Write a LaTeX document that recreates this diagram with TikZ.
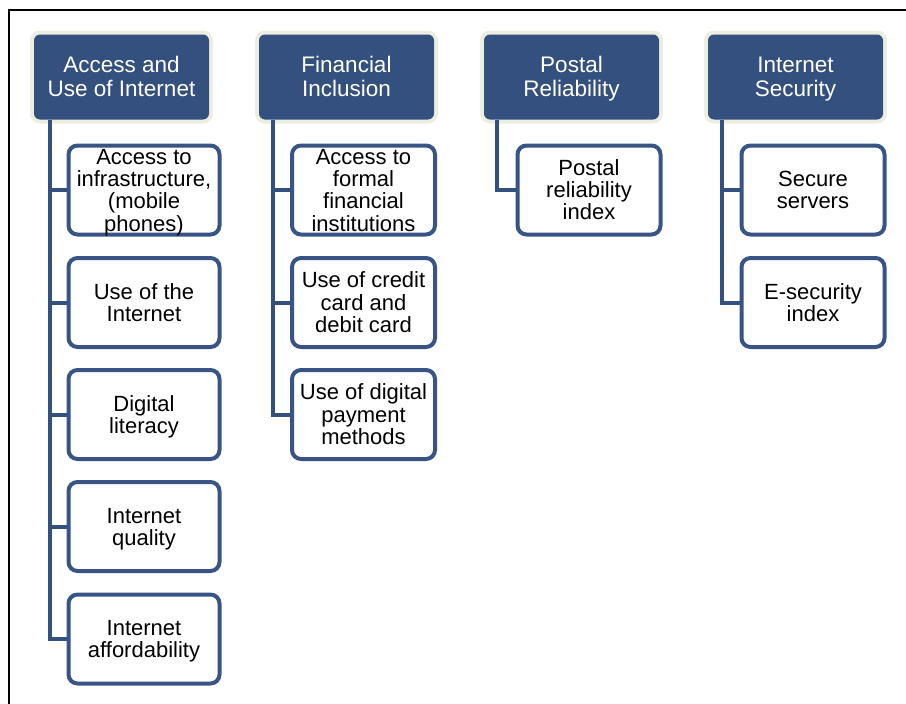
\documentclass[tikz,border=0pt]{standalone}
\usepackage{fontspec}
\setmainfont{Liberation Sans}
\definecolor{hdrblue}{RGB}{52,80,126}
\definecolor{boxblue}{RGB}{56,84,132}
\definecolor{beige}{RGB}{238,237,226}
\newcommand\tstrut{\rule[-5pt]{0pt}{27pt}}
\begin{document}
\begin{tikzpicture}[x=1pt,y=-1pt,
  hdr/.style={preaction={draw=beige,line width=8pt,rounded corners=7pt},
    fill=hdrblue, rounded corners=6pt, minimum width=175pt, minimum height=85pt,
    inner sep=0pt, text=white, align=center, font=\fontsize{22.5}{23.5}\selectfont},
  kid/.style={draw=boxblue, fill=white, line width=4pt, rounded corners=9pt,
    minimum width=143pt, minimum height=89pt, inner xsep=0pt, inner ysep=-7pt, align=center,
    font=\fontsize{22}{22.3}\selectfont},
  kidw/.style={kid, minimum width=151pt},
  conn/.style={draw=hdrblue, line width=4pt}
]
\useasboundingbox (0,0) rectangle (906,704);
\draw[line width=1.3pt] (9,704) -- (9,10) -- (906,10);

% headers
\node[hdr] (h1) at (121.5,77) {\tstrut Access and\\Use of Internet\strut};
\node[hdr] (h2) at (346.5,77) {\tstrut Financial\\Inclusion\strut};
\node[hdr] (h3) at (571.5,77) {\tstrut Postal\\Reliability\strut};
\node[hdr] (h4) at (795.5,77) {\tstrut Internet\\Security\strut};

\coordinate (t1) at ([xshift=16pt]h1.south west);
\coordinate (t2) at ([xshift=14pt]h2.south west);
\coordinate (t3) at ([xshift=13pt]h3.south west);
\coordinate (t4) at ([xshift=14pt]h4.south west);

% children column 1
\node[kidw] (c11) at (144,190) {\tstrut Access to\\infrastructure,\\(mobile\\phones)\strut};
\node[kidw] (c12) at (144,302.5) {\tstrut Use of the\\Internet\strut};
\node[kidw] (c13) at (144,414.5) {\tstrut Digital\\literacy\strut};
\node[kidw] (c14) at (144,526.5) {\tstrut Internet\\quality\strut};
\node[kidw] (c15) at (144,639) {\tstrut Internet\\affordability\strut};
% column 2
\node[kid] (c21) at (363.5,190) {\tstrut Access to\\formal\\financial\\institutions\strut};
\node[kid] (c22) at (363.5,302.5) {\tstrut Use of credit\\card and\\debit card\strut};
\node[kid] (c23) at (363.5,414.5) {\tstrut Use of digital\\payment\\methods\strut};
% column 3
\node[kid] (c31) at (589,190) {\tstrut Postal\\reliability\\index\strut};
% column 4
\node[kid] (c41) at (813,190) {\tstrut Secure\\servers\strut};
\node[kid] (c42) at (813,302.5) {\tstrut E-security\\index\strut};

% connectors
\draw[conn] (t1) |- (c15.west);
\foreach \c in {c11,c12,c13,c14} \draw[conn] (\c.west) -- (\c.west -| t1);
\draw[conn] (t2) |- (c23.west);
\foreach \c in {c21,c22} \draw[conn] (\c.west) -- (\c.west -| t2);
\draw[conn] (t3) |- (c31.west);
\draw[conn] (t4) |- (c42.west);
\draw[conn] (c41.west) -- (c41.west -| t4);
\end{tikzpicture}
\end{document}
